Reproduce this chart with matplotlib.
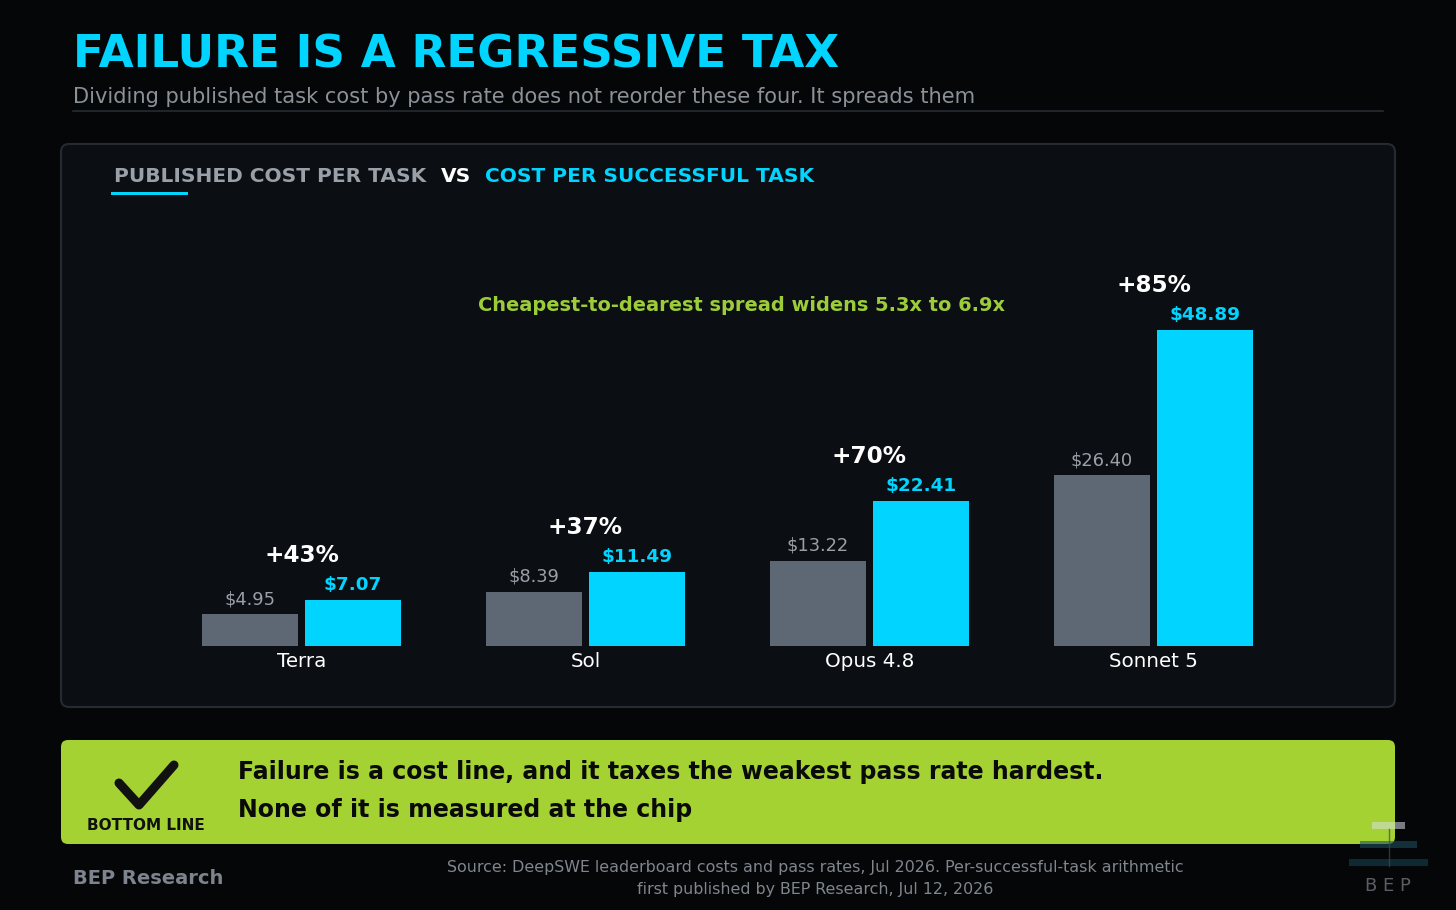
import matplotlib.pyplot as plt
from matplotlib.patches import FancyBboxPatch, Rectangle
import numpy as np

# data
models = ["Terra", "Sol", "Opus 4.8", "Sonnet 5"]
published_cost = [4.95, 8.39, 13.22, 26.40]
success_cost = [7.07, 11.49, 22.41, 48.89]
pct_change = ["+43%", "+37%", "+70%", "+85%"]

BG = "#050608"
PANEL = "#0b0e13"
CYAN = "#00d4ff"
GREY_BAR = "#5e6875"
GREY_TXT = "#9aa0a8"
LIME = "#a4d233"

W, H = 1456, 910
fig = plt.figure(figsize=(W / 100, H / 100), dpi=100, facecolor=BG)

# overlay axes in pixel coordinates for all the decoration
deco = fig.add_axes([0, 0, 1, 1])
deco.set_xlim(0, W)
deco.set_ylim(H, 0)
deco.axis("off")
deco.set_zorder(0)

deco.text(73, 68, "FAILURE IS A REGRESSIVE TAX", color=CYAN, fontsize=32.6,
          fontweight="bold", va="baseline", ha="left")
deco.text(73, 103, "Dividing published task cost by pass rate does not reorder these four. It spreads them",
          color="#8b9199", fontsize=15.1, va="baseline", ha="left")
deco.plot([73, 1383], [110.5, 110.5], color="#262b33", lw=1.2)

# chart panel
deco.add_patch(FancyBboxPatch((61, 144), 1334, 563, boxstyle="round,pad=0,rounding_size=8",
                              facecolor=PANEL, edgecolor="#252b33", lw=1.5))

# legend header
deco.text(114, 182, "PUBLISHED COST PER TASK", color=GREY_TXT, fontsize=14.5,
          fontweight="bold", va="baseline")
deco.text(441, 182, "VS", color="white", fontsize=14.5, fontweight="bold", va="baseline")
deco.text(485, 182, "COST PER SUCCESSFUL TASK", color=CYAN, fontsize=14.5,
          fontweight="bold", va="baseline")
deco.add_patch(Rectangle((111, 191.5), 77, 3.5, facecolor=CYAN, edgecolor="none"))

deco.text(742, 311, "Cheapest-to-dearest spread widens 5.3x to 6.9x", color="#9ccc3a",
          fontsize=13.95, fontweight="bold", ha="center", va="baseline")

# bottom line box
deco.add_patch(FancyBboxPatch((61, 740), 1334, 104, boxstyle="round,pad=0,rounding_size=7",
                              facecolor=LIME, edgecolor="none"))
deco.plot([119, 139, 174], [783, 805, 765], color="#111111", lw=6.5,
          solid_capstyle="round", solid_joinstyle="round")
deco.text(146, 830, "BOTTOM LINE", color="#111111", fontsize=11, fontweight="bold",
          ha="center", va="baseline")
deco.text(238, 779, "Failure is a cost line, and it taxes the weakest pass rate hardest.",
          color="#0a0a0a", fontsize=17, fontweight="bold", va="baseline")
deco.text(238, 817, "None of it is measured at the chip",
          color="#0a0a0a", fontsize=17, fontweight="bold", va="baseline")

# footer
deco.text(73, 884, "BEP Research", color="#7d848d", fontsize=14, fontweight="bold", va="baseline")
deco.text(815, 872, "Source: DeepSWE leaderboard costs and pass rates, Jul 2026. Per-successful-task arithmetic",
          color="#80868e", fontsize=11.4, ha="center", va="baseline")
deco.text(815, 894, "first published by BEP Research, Jul 12, 2026",
          color="#80868e", fontsize=11.4, ha="center", va="baseline")

# logo
deco.add_patch(Rectangle((1372, 822), 33, 7, facecolor="#d8dde2", alpha=0.55, edgecolor="none"))
deco.plot([1389, 1389], [829, 866], color="#3a4a50", lw=1, alpha=0.7)
deco.add_patch(Rectangle((1360, 841), 57, 7, facecolor="#1d4d5c", alpha=0.6, edgecolor="none"))
deco.add_patch(Rectangle((1349, 859), 79, 7, facecolor="#123845", alpha=0.7, edgecolor="none"))
deco.text(1388, 891, "B E P", color="#5a5f66", fontsize=13, ha="center", va="baseline")

# bar chart axes: x pixels 159.5..1295.5, y pixels 230..646
ax = fig.add_axes([159.5 / W, (H - 646) / H, 1136 / W, 416 / H])
ax.set_zorder(1)
ax.patch.set_alpha(0)
px_per_unit = 316 / 48.89
ax.set_xlim(-0.5, 3.5)
ax.set_ylim(0, 416 / px_per_unit)

x = np.arange(len(models))
bw = 96 / 284
off = 103 / 2 / 284
ax.bar(x - off, published_cost, bw, color=GREY_BAR)
ax.bar(x + off, success_cost, bw, color=CYAN)

for i in range(len(models)):
    ax.annotate(f"${published_cost[i]:.2f}", (x[i] - off, published_cost[i]),
                xytext=(0, 10), textcoords="offset pixels", ha="center", va="baseline",
                color=GREY_TXT, fontsize=12.9)
    ax.annotate(f"${success_cost[i]:.2f}", (x[i] + off, success_cost[i]),
                xytext=(0, 10), textcoords="offset pixels", ha="center", va="baseline",
                color=CYAN, fontsize=13.2, fontweight="bold")
    ax.annotate(pct_change[i], (x[i], success_cost[i]),
                xytext=(0, 38), textcoords="offset pixels", ha="center", va="baseline",
                color="white", fontsize=16.7, fontweight="bold")
    ax.annotate(models[i], (x[i], 0), xytext=(0, -21), textcoords="offset pixels",
                ha="center", va="baseline", color="white", fontsize=14.3)

ax.axis("off")

fig.savefig("out.png", dpi=100, facecolor=BG)
